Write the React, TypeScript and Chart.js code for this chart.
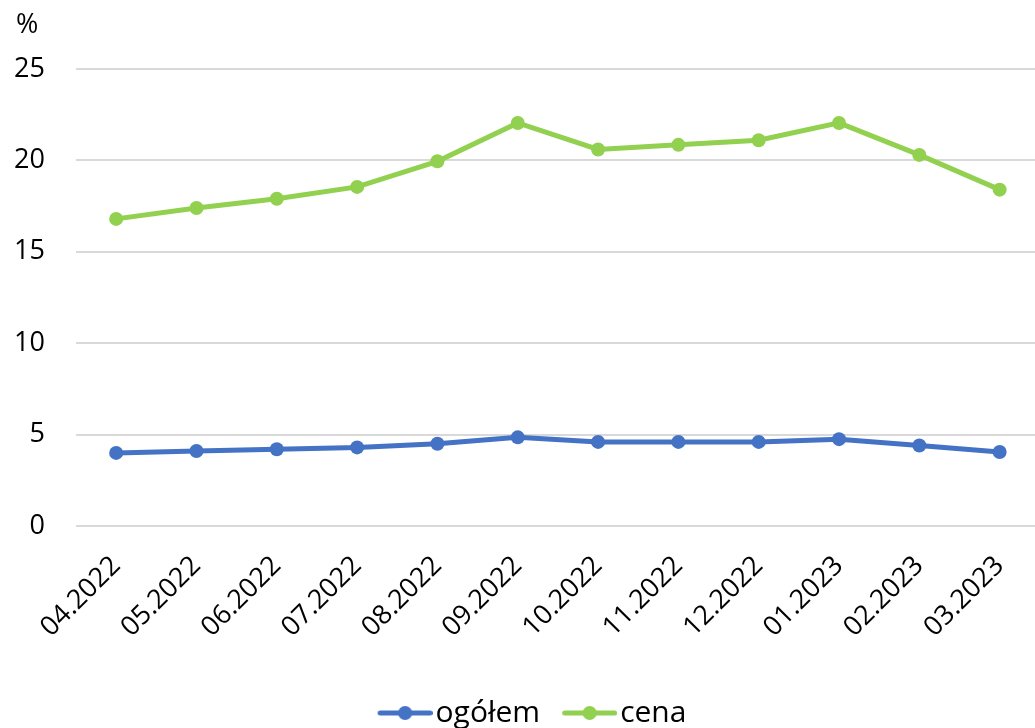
import React, { useEffect, useRef } from "react";
import { Chart, registerables } from "chart.js";

Chart.register(...registerables);

const categories = ["04.2022", "05.2022", "06.2022", "07.2022", "08.2022", "09.2022", "10.2022", "11.2022", "12.2022", "01.2023", "02.2023", "03.2023"];
const ogolem = [4.0, 4.1, 4.2, 4.3, 4.5, 4.85, 4.6, 4.6, 4.6, 4.75, 4.4, 4.05];
const cena = [16.8, 17.4, 17.9, 18.55, 19.95, 22.05, 20.6, 20.85, 21.1, 22.05, 20.3, 18.4];
const yTicks = [0, 5, 10, 15, 20, 25];
const seriesNames = ["ogółem", "cena"];
const seriesColors = ["#4472C4", "#92D050"];

const FONT = "'Open Sans', 'Noto Sans', sans-serif";
const FS = 27;
const LEGEND_FS = 30;
const X_MIN = -0.5;
const X_MAX = 11.44;

// legend marker: line with a dot, image is wider on the left so that the
// visible marker starts exactly at the legend item origin
function legendImage(color: string): HTMLCanvasElement {
  const c = document.createElement("canvas");
  c.width = 67;
  c.height = 16;
  const ctx = c.getContext("2d")!;
  ctx.strokeStyle = color;
  ctx.lineWidth = 5;
  ctx.lineCap = "round";
  ctx.beginPath();
  ctx.moveTo(14.5, 8);
  ctx.lineTo(64.5, 8);
  ctx.stroke();
  ctx.fillStyle = color;
  ctx.beginPath();
  ctx.arc(39.5, 8, 7, 0, Math.PI * 2);
  ctx.fill();
  return c;
}

const percentPlugin = {
  id: "percentLabel",
  afterDraw(chart: any) {
    const ctx = chart.ctx;
    ctx.save();
    ctx.font = `${FS}px ${FONT}`;
    ctx.fillStyle = "#000";
    ctx.textAlign = "left";
    ctx.textBaseline = "middle";
    ctx.fillText("%", 16, 25);
    ctx.restore();
  },
};

const zeroPad = () => ({ left: 0, top: 0, right: 0, bottom: 0 });
const noClip = () => undefined;

export default function App() {
  const ref = useRef<HTMLCanvasElement | null>(null);

  useEffect(() => {
    if (!ref.current) return;
    const images = seriesColors.map(legendImage);
    const mkDataset = (label: string, vals: number[], color: string) => ({
      label,
      data: vals.map((y, i) => ({ x: i, y })),
      borderColor: color,
      backgroundColor: color,
      borderWidth: 5,
      pointRadius: 7,
      pointHoverRadius: 7,
      pointBorderWidth: 0,
      tension: 0,
    });
    const chart = new Chart(ref.current, {
      type: "line",
      data: {
        datasets: [
          mkDataset(seriesNames[0], ogolem, seriesColors[0]),
          mkDataset(seriesNames[1], cena, seriesColors[1]),
        ],
      },
      options: {
        responsive: false,
        animation: false,
        layout: { autoPadding: false, padding: { left: 29, right: 0, top: 69, bottom: -10 } },
        scales: {
          x: {
            type: "linear",
            min: X_MIN,
            max: X_MAX,
            bounds: "data",
            afterBuildTicks: (scale: any) => {
              scale.ticks = categories.map((_, i) => ({ value: i }));
              scale.min = X_MIN;
              scale.max = X_MAX;
            },
            afterFit: (scale: any) => {
              scale.paddingLeft = 0;
              scale.paddingRight = 0;
              scale.getPadding = zeroPad;
              scale._computeLabelArea = noClip;
              scale.height = 150;
            },
            grid: { display: false, drawTicks: false },
            border: { display: false },
            ticks: {
              autoSkip: false,
              maxRotation: 45,
              minRotation: 45,
              padding: 24,
              color: "#000",
              font: { family: FONT, size: FS },
              callback: (v: any) => categories[v as number] ?? "",
            },
          },
          y: {
            min: 0,
            max: 25,
            afterBuildTicks: (scale: any) => {
              scale.ticks = yTicks.map((v) => ({ value: v }));
            },
            afterFit: (scale: any) => {
              scale.getPadding = zeroPad;
              scale._computeLabelArea = noClip;
              scale.width = 47;
            },
            grid: { color: "#d9d9d9", lineWidth: 2, drawTicks: false },
            border: { display: false },
            ticks: {
              padding: 31,
              color: "#000",
              font: { family: FONT, size: FS },
            },
          },
        },
        plugins: {
          tooltip: { enabled: false },
          title: { display: false },
          legend: {
            display: true,
            position: "bottom",
            labels: {
              usePointStyle: true,
              pointStyleWidth: 43,
              padding: 22,
              color: "#000",
              font: { family: FONT, size: LEGEND_FS },
              generateLabels: (ch: any) => {
                const items = Chart.defaults.plugins.legend.labels.generateLabels(ch);
                return items.map((it: any, i: number) => ({ ...it, pointStyle: images[i] }));
              },
            },
          },
        },
      },
      plugins: [percentPlugin],
    } as any);
    return () => chart.destroy();
  }, []);

  return (
    <div style={{ position: "absolute", left: 0, top: 0, width: 1035, height: 728, background: "#fff" }}>
      <canvas ref={ref} width={1035} height={728} />
    </div>
  );
}
